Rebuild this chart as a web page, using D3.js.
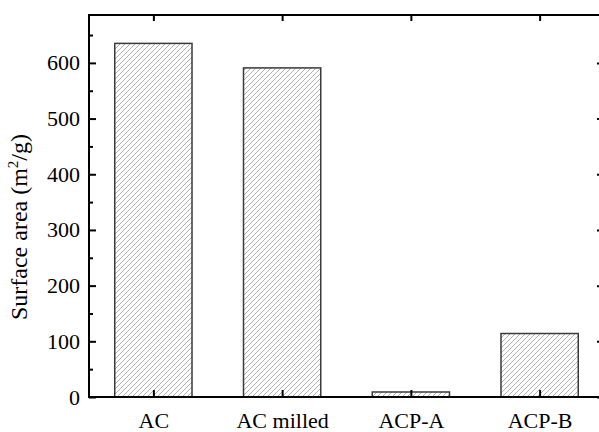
<!DOCTYPE html>
<html>
<head>
<meta charset="utf-8">
<script src="https://cdn.jsdelivr.net/npm/d3@7"></script>
<style>
  body { margin: 0; background: white; }
</style>
</head>
<body>
<script>
// values
var categories = ["AC", "AC milled", "ACP-A", "ACP-B"];
var surfaceArea = [635, 591, 9, 114];
var majorTicks = [0, 100, 200, 300, 400, 500, 600];
var minorTicks = [50, 150, 250, 350, 450, 550, 650];

function draw_chart(elem) {

    var font = '"Liberation Serif", "Times New Roman", serif';

    var margin = {top: 15, right: -5, bottom: 35, left: 89},
        width = 599 - margin.left - margin.right,
        height = 432 - margin.top - margin.bottom;

    var svg = d3.select(elem)
        .append("svg")
        .attr("width", 599)
        .attr("height", 432)
        .append("g")
            .attr("transform", "translate(" + margin.left + "," + margin.top + ")");

    var x = d3.scaleBand()
        .domain(categories)
        .range([0, width])
        .paddingInner(0.4)
        .paddingOuter(0.2);

    var y = d3.scaleLinear()
        .domain([0, 686])
        .range([height, 0]);

    svg.append("defs")
      .append("pattern")
        .attr("id", "hatch")
        .attr("patternUnits", "userSpaceOnUse")
        .attr("width", 5)
        .attr("height", 5)
        .append("path")
        .attr("d", "M0,5 l5,-5 M-1,1 l2,-2 M4,6 l2,-2")
        .attr("stroke", "#9a9a9a")
        .attr("stroke-width", 0.8);

    // ==== bars ====
    var bars = svg.append("g").selectAll("g")
        .data(surfaceArea)
        .join("g");

    bars.append("rect")
        .attr("x", function(d, i) { return x(categories[i]); })
        .attr("y", function(d) { return y(d); })
        .attr("width", x.bandwidth())
        .attr("height", function(d) { return height - y(d); })
        .attr("fill", "white");

    bars.append("rect")
        .attr("x", function(d, i) { return x(categories[i]); })
        .attr("y", function(d) { return y(d); })
        .attr("width", x.bandwidth())
        .attr("height", function(d) { return height - y(d); })
        .attr("fill", "url(#hatch)")
        .attr("stroke", "#3a3a3a")
        .attr("stroke-width", 1.5);

    // ==== axes ====
    function styleAxis(g) {
        g.select(".domain").remove();
        g.selectAll("line").attr("stroke", "black").attr("stroke-width", 2);
        g.selectAll("text")
            .attr("font-family", font)
            .attr("font-size", "22px")
            .attr("fill", "black");
    }

    svg.append("g")
        .call(d3.axisLeft(y).tickValues(majorTicks).tickSize(-7).tickPadding(9))
        .call(styleAxis);

    svg.append("g")
        .call(d3.axisLeft(y).tickValues(minorTicks).tickSize(-4).tickFormat(""))
        .call(styleAxis);

    svg.append("g")
        .attr("transform", "translate(" + width + ",0)")
        .call(d3.axisRight(y).tickValues(majorTicks).tickSize(-7).tickFormat(""))
        .call(styleAxis);

    svg.append("g")
        .attr("transform", "translate(" + width + ",0)")
        .call(d3.axisRight(y).tickValues(minorTicks).tickSize(-4).tickFormat(""))
        .call(styleAxis);

    var xCenter = d3.scalePoint()
        .domain(categories)
        .range([x(categories[0]) + x.bandwidth() / 2,
                x(categories[3]) + x.bandwidth() / 2]);

    svg.append("g")
        .attr("transform", "translate(0," + height + ")")
        .call(d3.axisBottom(xCenter).tickSize(-7).tickPadding(15))
        .call(styleAxis);

    svg.append("g")
        .call(d3.axisTop(xCenter).tickSize(-6).tickFormat(""))
        .call(styleAxis);

    // frame
    svg.append("rect")
        .attr("x", 0)
        .attr("y", 0)
        .attr("width", width)
        .attr("height", height)
        .attr("fill", "none")
        .attr("stroke", "black")
        .attr("stroke-width", 2);

    // y label
    var label = svg.append("text")
        .attr("transform", "translate(" + (-62) + "," + (height / 2 + 21) + ") rotate(-90)")
        .attr("text-anchor", "middle")
        .attr("font-family", font)
        .attr("font-size", "24px")
        .attr("fill", "black");
    label.append("tspan").text("Surface area (m");
    label.append("tspan").text("2").attr("font-size", "15px").attr("dy", "-0.6em");
    label.append("tspan").text("/g)").attr("dy", "0.38em");
}

draw_chart("body");
</script>
</body>
</html>
